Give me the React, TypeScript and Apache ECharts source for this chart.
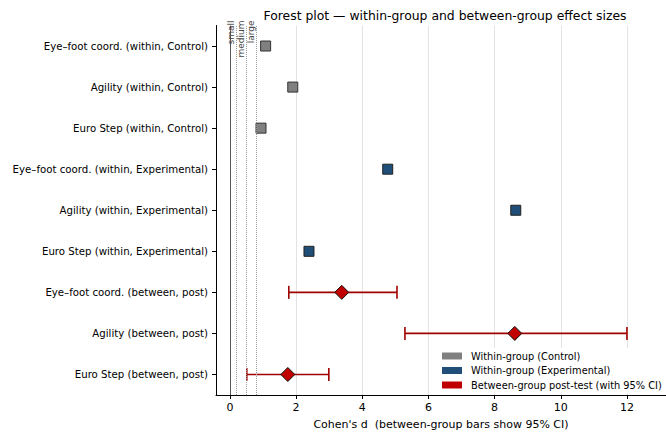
import React, { useEffect, useRef } from "react";
import * as echarts from "echarts";

// Rows, top to bottom
const categories = [
  "Eye–foot coord. (within, Control)",
  "Agility (within, Control)",
  "Euro Step (within, Control)",
  "Eye–foot coord. (within, Experimental)",
  "Agility (within, Experimental)",
  "Euro Step (within, Experimental)",
  "Eye–foot coord. (between, post)",
  "Agility (between, post)",
  "Euro Step (between, post)",
];

const controlRows = [0, 1, 2];
const controlValues = [1.08, 1.9, 0.94];

const experimentalRows = [3, 4, 5];
const experimentalValues = [4.77, 8.64, 2.39];

const betweenRows = [6, 7, 8];
const betweenValues = [3.38, 8.61, 1.75];
const betweenLow = [1.78, 5.29, 0.51];
const betweenHigh = [5.05, 12.0, 2.99];

const thresholds = [0.2, 0.5, 0.8];
const thresholdLabels = ["small", "medium", "large"];

const xTicks = [0, 2, 4, 6, 8, 10, 12];

const seriesNames = [
  "Within-group (Control)",
  "Within-group (Experimental)",
  "Between-group post-test (with 95% CI)",
];

const FONT = "DejaVu Sans";

export default function App() {
  const ref = useRef<HTMLDivElement>(null);

  useEffect(() => {
    if (!ref.current) return;
    const chart = echarts.init(ref.current, undefined, { renderer: "svg" });
    const axisCats = [...categories].reverse();
    const rowName = (i: number) => categories[i];
    const rowIdx = (i: number) => categories.length - 1 - i;

    const errColor = "#a00000";

    chart.setOption({
      animation: false,
      backgroundColor: "#ffffff",
      textStyle: { fontFamily: FONT },
      title: {
        text: "Forest plot — within-group and between-group effect sizes",
        left: 440,
        textAlign: "center",
        top: 4,
        textStyle: { fontFamily: FONT, fontSize: 12.4, fontWeight: "normal", color: "#000" },
      },
      grid: { left: 216, top: 25.5, right: 0, bottom: 34, containLabel: false },
      xAxis: {
        type: "value",
        min: -0.42,
        max: 13.18,
        name: "Cohen's d  (between-group bars show 95% CI)",
        nameLocation: "middle",
        nameGap: 24,
        nameTextStyle: { fontFamily: FONT, fontSize: 11, color: "#000" },
        axisLine: { show: true, onZero: false, lineStyle: { color: "#000", width: 1 } },
        axisTick: { show: true, length: 4, customValues: xTicks, lineStyle: { color: "#000" } },
        axisLabel: { customValues: xTicks, fontFamily: FONT, fontSize: 11, color: "#000", margin: 7 },
        splitLine: { show: true, lineStyle: { color: "#e3e3e3", width: 1 } },
      },
      yAxis: {
        type: "category",
        data: axisCats,
        axisLine: { show: true, onZero: false, lineStyle: { color: "#000", width: 1 } },
        axisTick: { show: true, length: 4, alignWithLabel: true, lineStyle: { color: "#000" } },
        axisLabel: { fontFamily: FONT, fontSize: 10.2, color: "#000", margin: 8 },
        splitLine: { show: false },
      },
      legend: {
        orient: "vertical",
        left: 437,
        top: 348,
        itemWidth: 20,
        itemHeight: 7,
        itemGap: 4.5,
        padding: [3, 5],
        backgroundColor: "#ffffff",
        textStyle: { fontFamily: FONT, fontSize: 9.8, color: "#000", padding: [0, 0, 0, 4] },
        data: [
          { name: seriesNames[0], icon: "rect", itemStyle: { color: "#808080", borderWidth: 0 } },
          { name: seriesNames[1], icon: "rect", itemStyle: { color: "#1f4e79", borderWidth: 0 } },
          { name: seriesNames[2], icon: "rect", itemStyle: { color: "#c00000", borderWidth: 0 } },
        ],
      },
      series: [
        {
          type: "custom",
          name: "ci",
          silent: true,
          z: 3,
          clip: false,
          encode: { x: [0, 1], y: 2 },
          data: betweenRows.map((r, i) => [betweenLow[i], betweenHigh[i], rowIdx(r)]),
          renderItem: (_params: any, api: any) => {
            const y = api.value(2);
            const lo = api.coord([api.value(0), y]);
            const hi = api.coord([api.value(1), y]);
            const h = 6.5;
            const style = { stroke: errColor, lineWidth: 1.6, fill: null };
            return {
              type: "group",
              children: [
                { type: "line", shape: { x1: lo[0], y1: lo[1], x2: hi[0], y2: hi[1] }, style },
                { type: "line", shape: { x1: lo[0], y1: lo[1] - h, x2: lo[0], y2: lo[1] + h }, style },
                { type: "line", shape: { x1: hi[0], y1: hi[1] - h, x2: hi[0], y2: hi[1] + h }, style },
              ],
            };
          },
        },
        {
          type: "scatter",
          name: seriesNames[0],
          symbol: "rect",
          symbolSize: 10,
          z: 4,
          itemStyle: { color: "#808080", borderColor: "#333333", borderWidth: 1, opacity: 1 },
          data: controlRows.map((r, i) => [controlValues[i], rowName(r)]),
          markLine: {
            silent: true,
            symbol: "none",
            animation: false,
            data: [
              { xAxis: 0, lineStyle: { color: "#555555", type: "solid", width: 1 }, label: { show: false } },
              ...thresholds.map((t, i) => ({
                xAxis: t,
                lineStyle: { color: "#9a9a9a", type: "dotted", width: 1 },
                label: {
                  show: true,
                  formatter: thresholdLabels[i],
                  position: "insideEndTop",
                  distance: [-5, 1],
                  fontFamily: FONT,
                  fontSize: 9,
                  color: "#444",
                },
              })),
            ],
          },
        },
        {
          type: "scatter",
          name: seriesNames[1],
          symbol: "rect",
          symbolSize: 10,
          z: 4,
          itemStyle: { color: "#1f4e79", borderColor: "#222222", borderWidth: 1, opacity: 1 },
          data: experimentalRows.map((r, i) => [experimentalValues[i], rowName(r)]),
        },
        {
          type: "scatter",
          name: seriesNames[2],
          symbol: "diamond",
          symbolSize: 14,
          z: 5,
          itemStyle: { color: "#c00000", borderColor: "#111111", borderWidth: 1, opacity: 1 },
          data: betweenRows.map((r, i) => [betweenValues[i], rowName(r)]),
        },
      ],
    });
    return () => chart.dispose();
  }, []);

  return (
    <div
      ref={ref}
      style={{ position: "fixed", left: 0, top: 0, width: 666, height: 435 }}
    />
  );
}
